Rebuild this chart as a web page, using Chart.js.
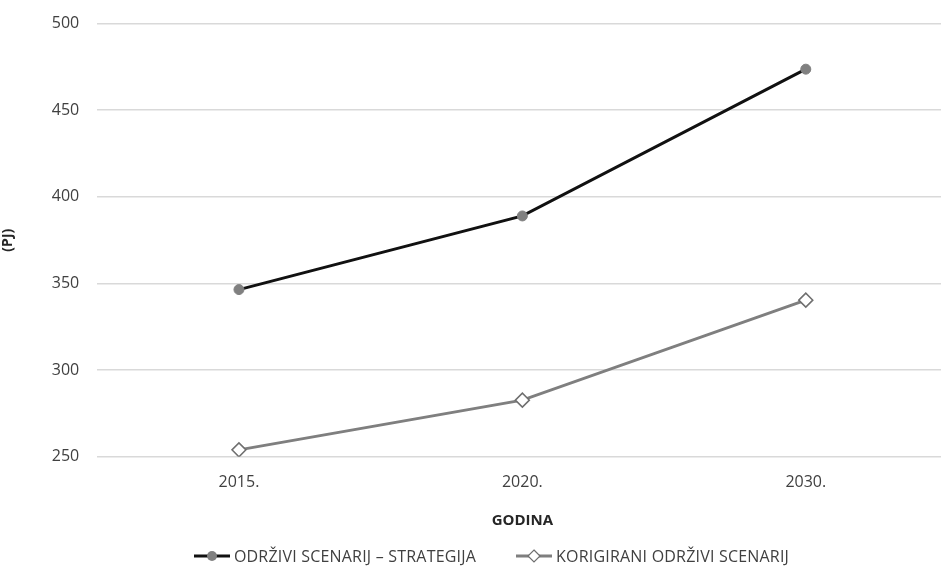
<!DOCTYPE html>
<html>
<head>
<meta charset="utf-8">
<script src="https://cdn.jsdelivr.net/npm/chart.js@4"></script>
<style>
  html, body { margin: 0; padding: 0; background: #fff; overflow: hidden; }
  #wrap { position: relative; width: 956px; height: 569px; overflow: hidden; }
  #chart { display: block; margin-top: -4px; }
  #legend {
    position: absolute; top: 545px; left: 21px; width: 941px;
    display: flex; justify-content: center; gap: 40px;
    font-family: "Open Sans", sans-serif; font-size: 16px; color: #404040;
    letter-spacing: 0.2px;
  }
  .item { display: flex; align-items: center; white-space: nowrap; }
  .item svg { margin-right: 4px; }
</style>
</head>
<body>
<div id="wrap">
  <canvas id="chart" width="956" height="573"></canvas>
  <div id="legend"></div>
</div>
<script>
// Chart data
const years = ['2015.', '2020.', '2030.'];
const strategija = [346.5, 389, 473.7];
const korigirani = [254, 282.7, 340.4];
const seriesNames = ['ODRŽIVI SCENARIJ – STRATEGIJA', 'KORIGIRANI ODRŽIVI SCENARIJ'];
const yTicks = [250, 300, 350, 400, 450, 500];

const FONT = '"Open Sans", sans-serif';
const TEXT = '#404040';

const ctx = document.getElementById('chart').getContext('2d');
const chart = new Chart(ctx, {
  type: 'line',
  data: {
    labels: years,
    datasets: [{
      label: seriesNames[0],
      data: strategija,
      borderColor: '#111111',
      borderWidth: 3,
      pointStyle: 'circle',
      pointRadius: 5,
      pointBackgroundColor: '#808080',
      pointBorderColor: '#808080',
      pointBorderWidth: 1,
      tension: 0,
    }, {
      label: seriesNames[1],
      data: korigirani,
      borderColor: '#7f7f7f',
      borderWidth: 3,
      pointStyle: 'rectRot',
      pointRadius: 7,
      pointBackgroundColor: '#ffffff',
      pointBorderColor: '#6f6f6f',
      pointBorderWidth: 1.5,
      tension: 0,
    }],
  },
  options: {
    responsive: false,
    animation: false,
    layout: { padding: { top: 6, left: 0, right: 0, bottom: 39 } },
    scales: {
      x: {
        offset: true,
        grid: { display: false, drawTicks: false },
        border: { display: false },
        ticks: { color: TEXT, font: { family: FONT, size: 16 }, padding: 16 },
        title: {
          display: true, text: 'GODINA', color: '#262626',
          font: { family: FONT, size: 15, weight: 'bold' },
          padding: { top: 4, bottom: 0 },
        },
      },
      y: {
        min: 250,
        max: 500,
        afterBuildTicks: axis => { axis.ticks = yTicks.map(v => ({ value: v })); },
        grid: { color: '#d9d9d9', lineWidth: 1.5, drawTicks: false },
        border: { display: false },
        ticks: { color: TEXT, font: { family: FONT, size: 16 }, padding: 18 },
        title: {
          display: true, text: '(PJ)', color: '#262626',
          font: { family: FONT, size: 14, weight: 'bold' },
          padding: { top: 0, bottom: 17 },
        },
      },
    },
    plugins: {
      legend: { display: false },
      tooltip: { enabled: false },
    },
  },
});

// HTML legend with line + marker swatches
const legend = document.getElementById('legend');
const swatches = [
  '<svg width="36" height="14"><line x1="0" y1="7" x2="36" y2="7" stroke="#111" stroke-width="3"/><circle cx="18" cy="7" r="5" fill="#808080"/></svg>',
  '<svg width="36" height="14"><line x1="0" y1="7" x2="36" y2="7" stroke="#7f7f7f" stroke-width="3"/><polygon points="18,1 24,7 18,13 12,7" fill="#fff" stroke="#6f6f6f" stroke-width="1.2"/></svg>',
];
seriesNames.forEach((name, i) => {
  const el = document.createElement('div');
  el.className = 'item';
  el.innerHTML = swatches[i] + '<span>' + name + '</span>';
  legend.appendChild(el);
});
</script>
</body>
</html>
